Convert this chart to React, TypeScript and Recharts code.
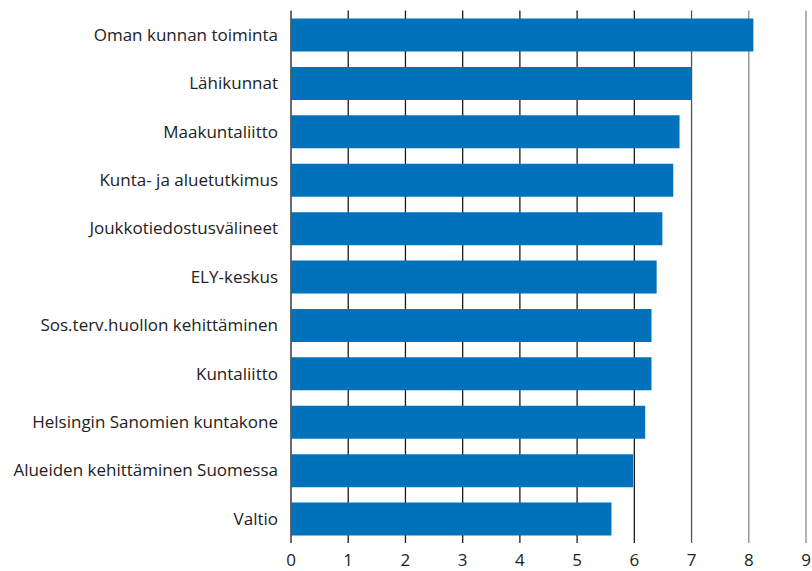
import { BarChart, Bar, XAxis, YAxis, CartesianGrid } from 'recharts';

const categories = [
  'Oman kunnan toiminta',
  'Lähikunnat',
  'Maakuntaliitto',
  'Kunta- ja aluetutkimus',
  'Joukkotiedostusvälineet',
  'ELY-keskus',
  'Sos.terv.huollon kehittäminen',
  'Kuntaliitto',
  'Helsingin Sanomien kuntakone',
  'Alueiden kehittäminen Suomessa',
  'Valtio',
];

const values = [8.08, 7.0, 6.79, 6.68, 6.49, 6.39, 6.3, 6.3, 6.19, 5.98, 5.6];

const xTicks = [0, 1, 2, 3, 4, 5, 6, 7, 8, 9];

// grid lines to the right look lighter in the original
const gridColors = ['#1a1a1a', '#1a1a1a', '#1a1a1a', '#1a1a1a', '#1a1a1a', '#1a1a1a', '#1a1a1a', '#555555', '#8a8a8a', '#8a8a8a'];

const data = categories.map((name, i) => ({ name, value: values[i] }));

const font = '"Open Sans", sans-serif';

const gridLine = (props: any) => {
  const i = typeof props.index === 'number' ? props.index : 0;
  return (
    <line
      key={props.key ?? `v-${i}`}
      x1={props.x1}
      y1={props.y1}
      x2={props.x2}
      y2={props.y2}
      stroke={gridColors[i] ?? '#1a1a1a'}
      strokeWidth={1.3}
      fill="none"
    />
  );
};

export default function App() {
  return (
    <div style={{ position: 'absolute', left: 0, top: 0, width: 812, height: 571, fontFamily: font }}>
      <BarChart
        width={812}
        height={571}
        data={data}
        layout="vertical"
        margin={{ top: 10.5, right: 6, bottom: 0, left: 0 }}
        barSize={33}
      >
        <CartesianGrid horizontal={false} vertical={gridLine} />
        <XAxis
          type="number"
          domain={[0, 9]}
          ticks={xTicks}
          interval={0}
          axisLine={false}
          tickLine={false}
          tickSize={0}
          tickMargin={11}
          height={28}
          tick={{ fill: '#222', fontSize: 17, fontFamily: font }}
        />
        <YAxis
          type="category"
          dataKey="name"
          width={291}
          axisLine={false}
          tickLine={false}
          tickSize={0}
          tickMargin={13}
          interval={0}
          tick={{ fill: '#222', fontSize: 17, fontFamily: font }}
        />
        <Bar dataKey="value" fill="#0072bc" isAnimationActive={false} />
      </BarChart>
    </div>
  );
}
